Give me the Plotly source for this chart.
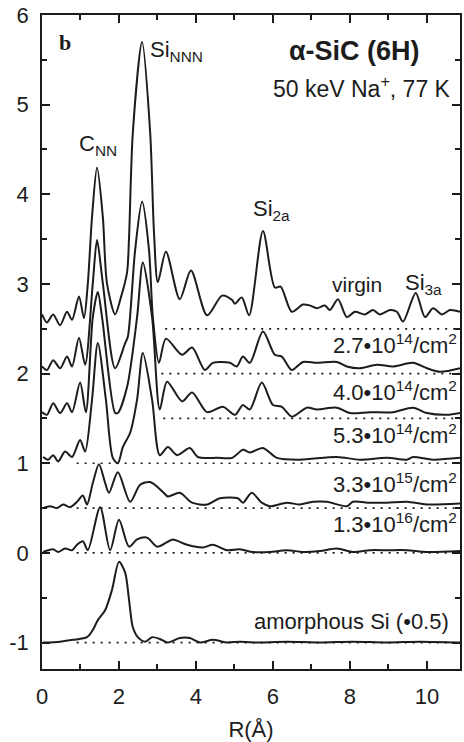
import plotly.graph_objects as go

# ---- data (R in Å, plotted amplitude incl. offset) ----
virgin_r = [0, 0.13, 0.29, 0.47, 0.65, 0.78, 0.96, 1.09, 1.19, 1.30, 1.43, 1.58, 1.69, 1.90,
            2.05, 2.21, 2.26, 2.36, 2.60, 2.81, 2.91, 3.01, 3.22, 3.58, 3.87, 4.29, 4.68, 4.94,
            5.01, 5.19, 5.38, 5.74, 6.05, 6.20, 6.49, 6.78, 6.96, 7.14, 7.35, 7.48, 7.69, 7.92,
            8.13, 8.39, 8.60, 8.78, 9.04, 9.22, 9.38, 9.71, 9.95, 10.16, 10.39, 10.60, 10.86]
virgin_v = [2.66, 2.57, 2.66, 2.54, 2.69, 2.60, 2.86, 2.62, 3.00, 3.75, 4.30, 3.75, 3.00, 2.66,
            2.85, 3.13, 3.50, 4.69, 5.70, 4.69, 3.57, 3.02, 3.36, 2.83, 3.15, 2.65, 2.87, 2.82,
            2.78, 2.85, 2.65, 3.59, 2.96, 2.97, 2.69, 2.77, 2.76, 2.73, 2.76, 2.71, 2.83, 2.63,
            2.69, 2.66, 2.71, 2.66, 2.71, 2.69, 2.58, 2.90, 2.63, 2.73, 2.66, 2.71, 2.69]

d27_r = [0, 0.13, 0.29, 0.47, 0.65, 0.78, 0.96, 1.12, 1.32, 1.43, 1.58, 1.90, 2.16, 2.23,
         2.42, 2.60, 2.78, 2.88, 3.04, 3.22, 3.64, 3.90, 4.23, 4.44, 4.88, 5.06, 5.22, 5.40,
         5.74, 6.05, 6.23, 6.49, 6.78, 7.14, 7.66, 7.92, 8.26, 8.70, 9.12, 9.64, 10.00, 10.34, 10.86]
d27_v = [2.08, 2.04, 2.15, 2.06, 2.19, 2.08, 2.40, 2.10, 3.01, 3.49, 3.01, 2.06, 2.34, 2.41,
         3.38, 3.92, 3.38, 2.63, 2.12, 2.39, 2.21, 2.29, 2.04, 2.12, 2.12, 2.08, 2.19, 2.12,
         2.47, 2.21, 2.19, 2.04, 2.13, 2.12, 2.13, 2.08, 2.06, 2.10, 2.08, 2.12, 2.06, 2.02, 2.06]

d40_r = [0, 0.13, 0.29, 0.47, 0.65, 0.78, 0.99, 1.14, 1.32, 1.45, 1.56, 1.90, 1.97, 2.21,
         2.47, 2.62, 2.86, 3.06, 3.25, 3.64, 3.90, 4.29, 4.70, 5.01, 5.22, 5.40, 5.71, 6.00,
         6.23, 6.49, 6.88, 7.14, 7.66, 8.00, 8.52, 9.12, 9.64, 10.00, 10.52, 10.86]
d40_v = [1.57, 1.54, 1.67, 1.56, 1.67, 1.57, 1.90, 1.57, 2.63, 2.91, 2.63, 1.56, 1.56, 1.85,
         2.63, 3.24, 2.63, 1.60, 1.91, 1.69, 1.79, 1.57, 1.63, 1.54, 1.65, 1.60, 1.90, 1.65,
         1.63, 1.52, 1.62, 1.60, 1.62, 1.56, 1.57, 1.57, 1.62, 1.56, 1.54, 1.56]

d53_r = [0.03, 0.16, 0.29, 0.42, 0.60, 0.78, 0.99, 1.12, 1.30, 1.45, 1.66, 1.84, 1.97, 2.10,
         2.29, 2.47, 2.62, 2.86, 3.06, 3.27, 3.51, 3.84, 4.05, 4.55, 4.94, 5.22, 5.40, 5.74,
         6.10, 6.70, 7.66, 8.26, 8.96, 9.48, 9.64, 10.16, 10.86]
d53_v = [1.07, 1.04, 1.09, 1.02, 1.13, 1.07, 1.26, 1.13, 1.71, 2.34, 1.71, 1.06, 1.00, 1.18,
         1.34, 1.71, 2.23, 1.71, 1.09, 1.18, 1.09, 1.17, 1.07, 1.06, 1.06, 1.15, 1.12, 1.17,
         1.06, 1.04, 1.07, 1.04, 1.06, 1.04, 1.07, 1.04, 1.06]

d33_r = [0.03, 0.21, 0.39, 0.55, 0.73, 0.91, 1.06, 1.17, 1.32, 1.48, 1.64, 1.74, 1.97, 2.29,
         2.55, 2.81, 3.14, 3.27, 3.58, 3.90, 4.29, 4.62, 5.09, 5.22, 5.45, 5.71, 5.92, 6.36,
         6.70, 7.04, 7.40, 7.92, 8.08, 8.52, 8.96, 9.48, 10.00, 10.86]
d33_v = [0.50, 0.52, 0.50, 0.54, 0.51, 0.57, 0.64, 0.54, 0.78, 0.99, 0.78, 0.67, 0.90, 0.57,
         0.76, 0.79, 0.68, 0.63, 0.67, 0.56, 0.54, 0.61, 0.61, 0.56, 0.67, 0.56, 0.52, 0.56,
         0.54, 0.57, 0.57, 0.52, 0.57, 0.56, 0.56, 0.57, 0.54, 0.55]

d13_r = [0.03, 0.29, 0.42, 0.60, 0.78, 0.91, 1.06, 1.19, 1.51, 1.77, 2.00, 2.26, 2.47, 2.73,
         2.99, 3.25, 3.40, 3.77, 4.18, 4.44, 4.81, 5.14, 5.48, 5.92, 6.36, 6.78, 7.22, 7.66,
         8.08, 8.52, 8.96, 9.48, 10.00, 10.86]
d13_v = [0.01, 0.04, 0.01, 0.05, 0.03, 0.09, 0.13, 0.03, 0.51, 0.03, 0.37, 0.07, 0.15, 0.17,
         0.07, 0.12, 0.15, 0.09, 0.06, 0.09, 0.03, 0.04, 0.01, 0.01, 0.03, 0.01, 0.02, 0.05,
         0.01, 0.03, 0.03, 0.03, 0.01, 0.02]

amor_r = [0.03, 0.47, 0.81, 1.17, 1.32, 1.45, 1.64, 1.82, 2.00, 2.16, 2.26, 2.36, 2.49, 2.68,
          2.86, 3.06, 3.27, 3.58, 3.84, 4.10, 4.44, 4.81, 5.14, 5.48, 6.36, 7.22, 8.08, 8.96,
          9.82, 10.86]
amor_v = [-1.00, -0.99, -0.97, -0.94, -0.86, -0.75, -0.64, -0.41, -0.10, -0.22, -0.52, -0.83,
          -0.94, -0.99, -0.94, -0.96, -1.00, -0.95, -0.95, -1.00, -0.97, -1.00, -0.99, -1.00,
          -0.99, -1.00, -0.99, -1.00, -0.99, -1.00]

# baselines (dotted): level and starting R
base_level = [2.5, 2.0, 1.5, 1.0, 0.5, 0.0, -1.0]
base_start = [3.2, 3.1, 3.15, 0.9, 0.9, 0.9, 0.9]
base_end = 10.86

dose_labels = ["2.7•10<sup>14</sup>/cm<sup>2</sup>", "4.0•10<sup>14</sup>/cm<sup>2</sup>",
               "5.3•10<sup>14</sup>/cm<sup>2</sup>", "3.3•10<sup>15</sup>/cm<sup>2</sup>",
               "1.3•10<sup>16</sup>/cm<sup>2</sup>"]
dose_label_y = [2.33, 1.81, 1.33, 0.78, 0.33]

y_ticks = [-1, 0, 1, 2, 3, 4, 5, 6]
y_ticktext = ["-1", "0", "1", "2", "3", "4", "5", "6"]
x_ticks = [0, 2, 4, 6, 8, 10]

INK = "#1c1c1c"
FONT = "Liberation Sans, Arial, sans-serif"

fig = go.Figure()

for lvl, st in zip(base_level, base_start):
    fig.add_trace(go.Scatter(x=[st, base_end], y=[lvl, lvl], mode="lines",
                             line=dict(color=INK, width=1.7, dash="2px,6px"),
                             hoverinfo="skip", showlegend=False))

for rr, vv in [(virgin_r, virgin_v), (d27_r, d27_v), (d40_r, d40_v), (d53_r, d53_v),
               (d33_r, d33_v), (d13_r, d13_v), (amor_r, amor_v)]:
    fig.add_trace(go.Scatter(x=rr, y=vv, mode="lines",
                             line=dict(color=INK, width=2.0, shape="spline", smoothing=0.8),
                             showlegend=False))

ann = []
def add(text, x, y, size=20, xanchor="center", yanchor="middle", family=FONT):
    ann.append(dict(text=text, x=x, y=y, xref="x", yref="y", showarrow=False,
                    xanchor=xanchor, yanchor=yanchor,
                    font=dict(family=family, size=size, color=INK)))

add("<b>b</b>", 0.6, 5.69, size=22, family="Liberation Serif, Times New Roman, serif")
add("<b>α-SiC (6H)</b>", 9.87, 5.60, size=27, xanchor="right")
add("50 keV Na<sup>+</sup>, 77 K", 10.68, 5.20, size=23, xanchor="right")
add("C<sub>NN</sub>", 1.45, 4.55, size=22)
add("Si<sub>NNN</sub>", 3.5, 5.60, size=22)
add("Si<sub>2a</sub>", 5.97, 3.82, size=22)
add("virgin", 8.18, 2.99, size=21)
add("Si<sub>3a</sub>", 9.92, 3.0, size=22)
for t, yy in zip(dose_labels, dose_label_y):
    add(t, 10.83, yy, size=22, xanchor="right")
add("amorphous Si (•0.5)", 10.62, -0.76, size=22, xanchor="right")

axis_common = dict(showline=True, linecolor=INK, linewidth=1.8, mirror="ticks",
                   ticks="inside", tickcolor=INK, tickwidth=1.5, showgrid=False,
                   zeroline=False, automargin=False,
                   tickfont=dict(family=FONT, size=22, color=INK))

fig.update_layout(
    width=464, height=742,
    margin=dict(l=42, r=4, t=15, b=73),
    paper_bgcolor="white", plot_bgcolor="white",
    annotations=ann,
    xaxis=dict(range=[0, 10.86], tickvals=x_ticks, ticklen=8, ticklabelstandoff=7,
               minor=dict(dtick=1, ticklen=5, ticks="inside", tickcolor=INK, tickwidth=1.5),
               title=dict(text="R(Å)", font=dict(family=FONT, size=22, color=INK), standoff=18),
               **axis_common),
    yaxis=dict(range=[-1.295, 6], tickvals=y_ticks, ticktext=y_ticktext, ticklen=8,
               ticklabelstandoff=7,
               minor=dict(dtick=0.5, ticklen=5, ticks="inside", tickcolor=INK, tickwidth=1.5),
               **axis_common),
)

fig.write_html("out.html")
